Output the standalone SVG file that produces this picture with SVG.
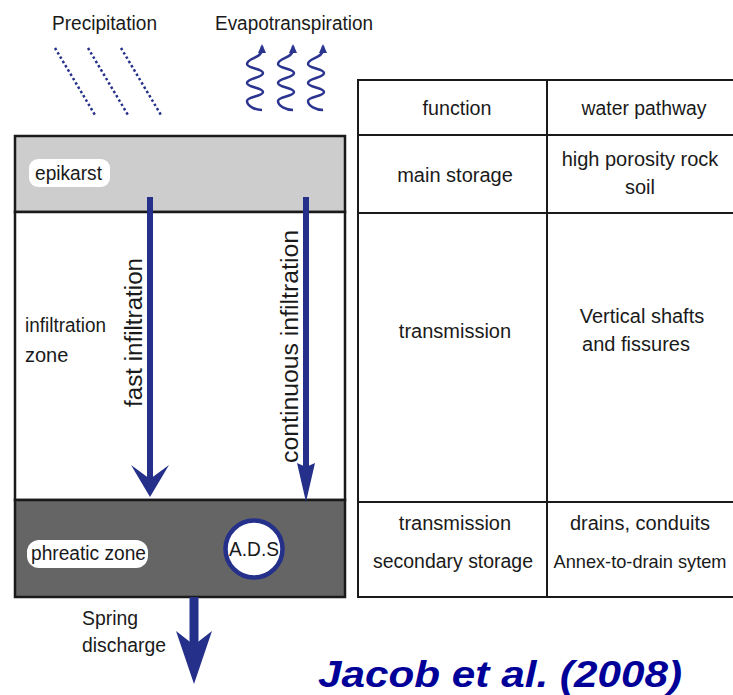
<svg xmlns="http://www.w3.org/2000/svg" width="733" height="695" viewBox="0 0 733 695">
<style>
text{font-family:"Liberation Sans",Arial,sans-serif;fill:#1a1a1a;font-size:20px}
.c{text-anchor:middle}
.sm{font-size:18.5px}
.rot{font-size:23.5px}
.cite{font-size:37px;font-weight:bold;font-style:italic;fill:#000099}
.zone{stroke:#1a1a1a;stroke-width:2.5}
.tl{stroke:#1a1a1a;stroke-width:2;fill:none}
.rain{stroke:#25308a;stroke-width:2.5;stroke-dasharray:2.5 2.5;fill:none}
.wave{stroke:#2b3590;stroke-width:2.5;fill:none}
.shaft{stroke:#25308a;fill:none}
.head{fill:#25308a}
.lbl{fill:#fff}
</style>
<defs>
<marker id="wa" markerWidth="8" markerHeight="10" refX="4" refY="2" orient="0" markerUnits="userSpaceOnUse">
<path d="M0,9 L4,0 L8,9 Z" fill="#2b3590"/>
</marker>
</defs>
<rect width="733" height="695" fill="#fff"/>

<g id="precipitation">
<text x="52" y="30" textLength="105" lengthAdjust="spacingAndGlyphs">Precipitation</text>
<line class="rain" x1="55" y1="48" x2="95" y2="115"/>
<line class="rain" x1="88" y1="48" x2="128" y2="115"/>
<line class="rain" x1="121" y1="48" x2="161" y2="115"/>
</g>

<g id="evapotranspiration">
<text x="215" y="30" textLength="158" lengthAdjust="spacingAndGlyphs">Evapotranspiration</text>
<path class="wave" marker-end="url(#wa)" d="M262,110 C255,110 247,106 247,101 C247,96.5 263,96.5 263,92 C263,87.5 247,87.5 247,83 C247,78 263,78 263,73 C263,68.5 247,68.5 247,64 C247,58 262,58 262,50 L262,46"/>
<path class="wave" marker-end="url(#wa)" transform="translate(31,0)" d="M262,110 C255,110 247,106 247,101 C247,96.5 263,96.5 263,92 C263,87.5 247,87.5 247,83 C247,78 263,78 263,73 C263,68.5 247,68.5 247,64 C247,58 262,58 262,50 L262,46"/>
<path class="wave" marker-end="url(#wa)" transform="translate(61,0)" d="M262,110 C255,110 247,106 247,101 C247,96.5 263,96.5 263,92 C263,87.5 247,87.5 247,83 C247,78 263,78 263,73 C263,68.5 247,68.5 247,64 C247,58 262,58 262,50 L262,46"/>
</g>

<g id="epikarst">
<rect class="zone" x="15" y="136" width="330" height="76" fill="#cdcdcd"/>
<rect class="lbl" x="29" y="159" width="81" height="28" rx="9"/>
<text x="35" y="180" textLength="67" lengthAdjust="spacingAndGlyphs">epikarst</text>
</g>

<g id="infiltration-zone">
<rect class="zone" x="15" y="212" width="330" height="288" fill="#fff"/>
<text x="25" y="332" textLength="81" lengthAdjust="spacingAndGlyphs">infiltration</text>
<text x="25" y="362">zone</text>
</g>

<g id="phreatic-zone">
<rect class="zone" x="15" y="500" width="330" height="97" fill="#656565"/>
<rect class="lbl" x="27" y="540" width="121" height="28" rx="12"/>
<text x="31" y="560" textLength="115" lengthAdjust="spacingAndGlyphs">phreatic zone</text>
</g>

<g id="ads">
<circle cx="254" cy="549" r="28.5" fill="#fff" stroke="#25308a" stroke-width="4.5"/>
<text class="c" x="254" y="556" textLength="50" lengthAdjust="spacingAndGlyphs">A.D.S</text>
</g>

<g id="connectors">
<g id="fast-infiltration">
<line class="shaft" x1="150" y1="197" x2="150" y2="482" stroke-width="6"/>
<path class="head" d="M131,465 L150,479 L169,465 L150,497 Z"/>
<text class="rot" transform="translate(142,407) rotate(-90)" textLength="149" lengthAdjust="spacingAndGlyphs">fast infiltration</text>
</g>
<g id="continuous-infiltration">
<line class="shaft" x1="306" y1="197" x2="306" y2="470" stroke-width="6"/>
<path class="head" d="M297,463 L306,467 L315,463 L306,502 Z"/>
<text class="rot" transform="translate(298,463) rotate(-90)" textLength="233" lengthAdjust="spacingAndGlyphs">continuous  infiltration</text>
</g>
<g id="spring-discharge">
<line class="shaft" x1="194" y1="597" x2="194" y2="645" stroke-width="9"/>
<path class="head" d="M176,631 L194,645 L212,631 L194,684 Z"/>
<text x="82" y="625" textLength="56" lengthAdjust="spacingAndGlyphs">Spring</text>
<text x="82" y="652" textLength="84" lengthAdjust="spacingAndGlyphs">discharge</text>
</g>
</g>

<g id="table">
<rect class="tl" x="358" y="80" width="390" height="517"/>
<line class="tl" x1="547" y1="80" x2="547" y2="597"/>
<line class="tl" x1="358" y1="135" x2="748" y2="135"/>
<line class="tl" x1="358" y1="213" x2="748" y2="213"/>
<line class="tl" x1="358" y1="502" x2="748" y2="502"/>
<text class="c" x="457" y="115" textLength="69" lengthAdjust="spacingAndGlyphs">function</text>
<text class="c" x="644" y="115" textLength="125" lengthAdjust="spacingAndGlyphs">water pathway</text>
<text class="c" x="455" y="182">main storage</text>
<text class="c" x="640" y="166">high porosity rock</text>
<text class="c" x="640" y="194">soil</text>
<text class="c" x="455" y="338">transmission</text>
<text class="c" x="642" y="323">Vertical shafts</text>
<text class="c" x="636" y="351">and fissures</text>
<text class="c" x="455" y="530">transmission</text>
<text class="c" x="453" y="568" textLength="160" lengthAdjust="spacingAndGlyphs">secondary storage</text>
<text class="c" x="640" y="530">drains, conduits</text>
<text class="c sm" x="640" y="568" textLength="173" lengthAdjust="spacingAndGlyphs">Annex-to-drain sytem</text>
</g>

<g id="citation">
<text class="cite" x="318" y="687" textLength="364" lengthAdjust="spacingAndGlyphs">Jacob et al. (2008)</text>
</g>
</svg>
